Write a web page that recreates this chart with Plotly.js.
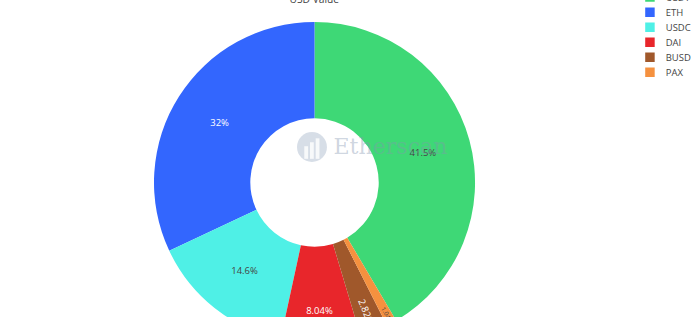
<!DOCTYPE html>
<html>
<head>
<meta charset="utf-8">
<script src="https://cdn.plot.ly/plotly-3.0.1.min.js"></script>
<style>
  html, body { margin: 0; padding: 0; background: #fff; overflow: hidden; width: 700px; height: 317px; }
  #wrap { position: absolute; left: 0; top: -40px; transform: scale(0.79); transform-origin: 0 0; }
  #chart { width: 886px; height: 500px; }
</style>
</head>
<body>
<div id="wrap"><div id="chart"></div></div>
<script>
// Token holdings by USD value (share of total, %)
const tokens = ['USDT', 'ETH', 'USDC', 'DAI', 'BUSD', 'PAX'];
const usdShare = [41.5, 32, 14.6, 8.04, 2.82, 1.04];
const sliceColors = ['#3ed876', '#3366fe', '#4ff0e6', '#e8262b', '#a0582b', '#f5913f'];

const trace = {
  type: 'pie',
  labels: tokens,
  values: usdShare,
  hole: 0.4,
  marker: { colors: sliceColors },
  textinfo: 'percent',
  textposition: 'inside',
  domain: { x: [0.2200, 0.6787], y: [0.0304, 0.8432] },
  hoverinfo: 'label+percent'
};

// light watermark over the middle of the donut
const markX = 0.4457, markY = 0.5266, markRx = 0.0214, markRy = 0.038;
const watermarkShapes = [
  { type: 'circle', xref: 'paper', yref: 'paper', layer: 'above',
    x0: markX - markRx, x1: markX + markRx, y0: markY - markRy, y1: markY + markRy,
    fillcolor: 'rgba(140,160,185,0.35)', line: { width: 0 } },
  { type: 'rect', xref: 'paper', yref: 'paper', layer: 'above',
    x0: markX - 0.011, x1: markX - 0.0055, y0: markY - 0.03, y1: markY + 0.002,
    fillcolor: 'rgba(255,255,255,0.8)', line: { width: 0 } },
  { type: 'rect', xref: 'paper', yref: 'paper', layer: 'above',
    x0: markX - 0.0028, x1: markX + 0.0026, y0: markY - 0.03, y1: markY + 0.012,
    fillcolor: 'rgba(255,255,255,0.8)', line: { width: 0 } },
  { type: 'rect', xref: 'paper', yref: 'paper', layer: 'above',
    x0: markX + 0.0053, x1: markX + 0.0107, y0: markY - 0.03, y1: markY + 0.022,
    fillcolor: 'rgba(255,255,255,0.8)', line: { width: 0 } }
];

const layout = {
  width: 886,
  height: 500,
  margin: { l: 0, r: 0, t: 0, b: 0 },
  paper_bgcolor: '#fff',
  font: { family: '"Open Sans", sans-serif', color: '#444' },
  title: {
    text: 'USD Value',
    x: 0.449, xanchor: 'center',
    y: 0.9, yanchor: 'middle', yref: 'container',
    font: { size: 13, color: '#444' }
  },
  showlegend: true,
  legend: { x: 0.906, xanchor: 'left', y: 0.935, yanchor: 'top', font: { size: 12, color: '#444' } },
  shapes: watermarkShapes,
  annotations: [{
    text: 'Etherscan', xref: 'paper', yref: 'paper',
    x: 0.5575, y: 0.5266, xanchor: 'center', yanchor: 'middle', showarrow: false,
    font: { family: '"DejaVu Serif", serif', size: 28, color: 'rgba(130,150,175,0.4)' }
  }]
};

Plotly.newPlot('chart', [trace], layout, { displayModeBar: false, staticPlot: true });
</script>
</body>
</html>
